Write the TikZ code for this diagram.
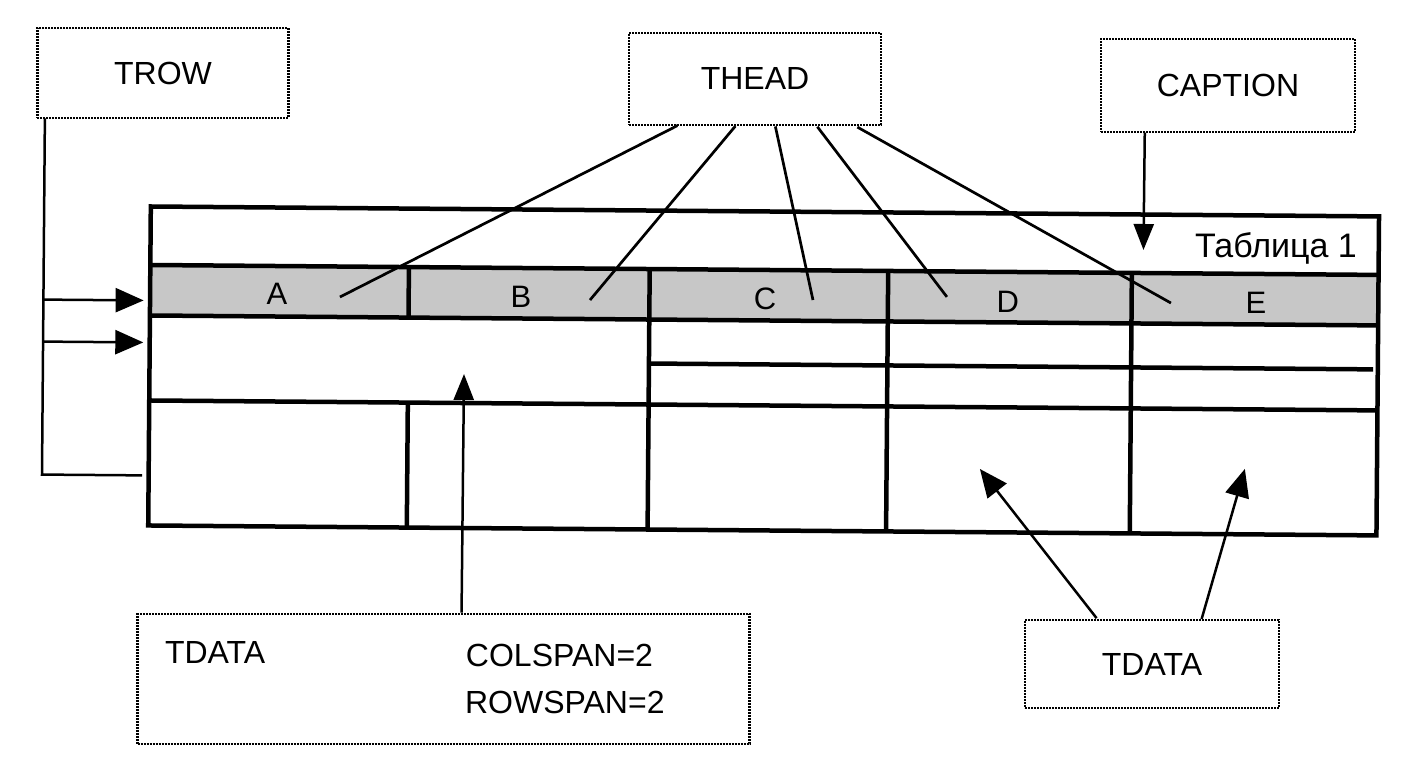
\documentclass[tikz,border=0pt]{standalone}
\usepackage{fontspec}
\setmainfont{Liberation Sans}
\usetikzlibrary{arrows.meta}
\begin{document}
\begin{tikzpicture}[x=1pt,y=-1pt,
  lbl/.style={draw, line width=2.6pt, dash pattern=on 2pt off 1pt, inner sep=0pt, font=\fontsize{32}{38}\selectfont},
  txt/.style={inner sep=0pt, font=\fontsize{32}{38}\selectfont},
  hd/.style={inner sep=0pt, font=\fontsize{31}{37}\selectfont},
  tbl/.style={line width=4.5pt},
  conn/.style={line width=2.7pt},
  thin/.style={line width=2.5pt},
  bigtip/.style={-{Triangle[length=28pt,width=24pt]}},
  smalltip/.style={-{Triangle[length=26pt,width=20pt]}},
]
\useasboundingbox (0,0) rectangle (1416,759);
\fill[white] (0,0) rectangle (1416,759);
\begin{scope}[rotate around={-0.464:(708,380)}]
  % header shading
  \fill[black!22] (149.4,269.5) rectangle (1377.7,320);
  % table lines
  \draw[tbl] (149.4,211) rectangle (1377.7,530);
  \draw[tbl] (149.4,269.5) -- (1377.7,269.5);
  \draw[tbl] (149.4,320) -- (1377.7,320);
  \draw[tbl] (648.8,364) -- (1373,364);
  \draw[tbl] (149.4,405) -- (1377.7,405);
  \draw[tbl] (408,269.5) -- (408,320);
  \draw[tbl] (408,405) -- (408,530);
  \draw[tbl] (648.8,269.5) -- (648.8,530);
  \draw[tbl] (887.3,269.5) -- (887.3,530);
  \draw[tbl] (1131,269.5) -- (1131,530);
  % header letters
  \node[hd] (hA) at (276.3,297.5) {A};
  \node[hd] (hB) at (520.3,298.5) {B};
  \node[hd] (hC) at (764.3,298.5) {C};
  \node[hd] (hD) at (1007.3,299.6) {D};
  \node[hd] (hE) at (1255.3,298.6) {E};
  \node[inner sep=0pt, font=\fontsize{34}{40}\selectfont, anchor=base east] (captxt) at (1356,252.7) {Таблица 1};
  % label boxes
  \node[lbl, minimum width=251pt, minimum height=90pt] (trow) at (160.5,77.4) {TROW};
  \node[lbl, minimum width=252pt, minimum height=92pt] (thead) at (752.6,78.6) {THEAD};
  \node[lbl, minimum width=254pt, minimum height=93pt] (caption) at (1225.6,81.3) {CAPTION};
  \node[lbl, minimum width=612pt, minimum height=130pt] (tdl) at (446,681) {};
  \node[lbl, minimum width=254pt, minimum height=88pt] (tdr) at (1154.3,660.4) {TDATA};
  \node[txt, anchor=west] (tdlt) at (167,656.4) {TDATA};
  \node[txt, anchor=west] (colsp) at (468,657) {COLSPAN=2};
  \node[txt, anchor=west] (rowsp) at (467.5,704.5) {ROWSPAN=2};
  % endpoints
  \coordinate (eA) at (339.3,300);
  \coordinate (eB) at (589.4,301);
  \coordinate (eC) at (812.4,299.2);
  \coordinate (eD) at (946.3,295);
  \coordinate (eE) at (1170.4,299.3);
  \coordinate (tv) at ([xshift=-118.1pt]trow.south);
  \coordinate (r1) at (143,305);
  \coordinate (r2) at (143,347);
  \coordinate (r3) at (143,480);
  \coordinate (capTip) at (1142.5,246.5);
  \coordinate (csTip) at (464,376);
  \coordinate (t1) at (980.7,466.8);
  \coordinate (t2) at (1245.7,464.6);
  % THEAD connectors
  \draw[conn] ([xshift=-77.6pt]thead.south) -- (eA);
  \draw[conn] ([xshift=-19.6pt]thead.south) -- (eB);
  \draw[conn] ([xshift=20.4pt]thead.south) -- (eC);
  \draw[conn] ([xshift=62.4pt]thead.south) -- (eD);
  \draw[conn] ([xshift=102.4pt]thead.south) -- (eE);
  % TROW connector
  \draw[thin] (tv) |- (r3);
  \draw[thin, bigtip] (tv |- r1) -- (r1);
  \draw[thin, bigtip] (tv |- r2) -- (r2);
  % CAPTION arrow
  \draw[thin, smalltip] ([xshift=-83.1pt]caption.south) -- (capTip);
  % TDATA arrows
  \draw[thin, smalltip] ([xshift=18pt]tdl.north) -- (csTip);
  \draw[thin, bigtip] ([xshift=-55.3pt]tdr.north) -- (t1);
  \draw[thin, bigtip] ([xshift=49.7pt]tdr.north) -- (t2);
\end{scope}
\end{tikzpicture}
\end{document}
